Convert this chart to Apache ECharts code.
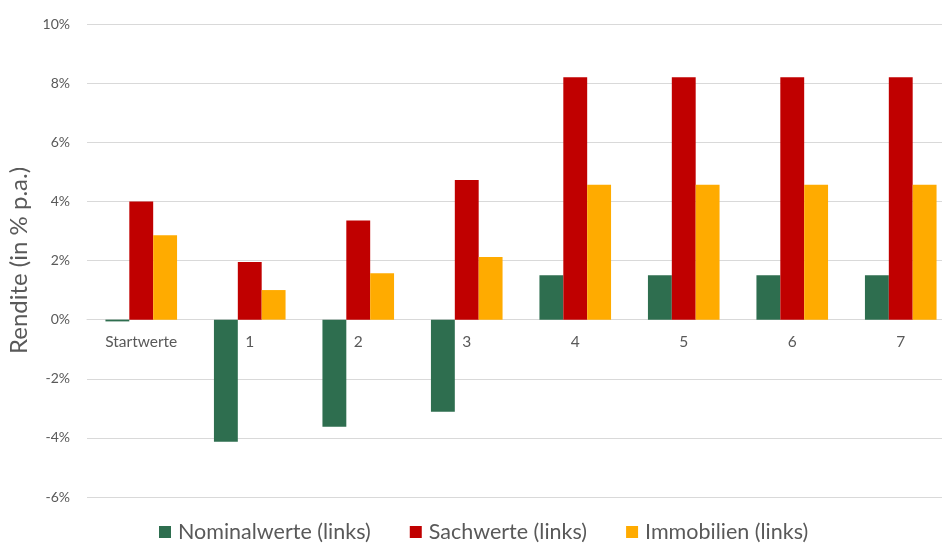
<!DOCTYPE html>
<html>
<head>
<meta charset="utf-8">
<script src="https://cdn.jsdelivr.net/npm/echarts@6/dist/echarts.min.js"></script>
<style>
  html, body { margin: 0; padding: 0; background: #ffffff; }
  #chart { width: 942px; height: 543px; }
</style>
</head>
<body>
<div id="chart"></div>
<script>
// Kategorien und Renditen (in % p.a.)
const categories = ['Startwerte', '1', '2', '3', '4', '5', '6', '7'];
const nominalwerte = [-0.06, -4.13, -3.62, -3.12, 1.5, 1.5, 1.5, 1.5];
const sachwerte = [4.0, 1.95, 3.35, 4.72, 8.2, 8.2, 8.2, 8.2];
const immobilien = [2.85, 1.0, 1.57, 2.12, 4.56, 4.56, 4.56, 4.56];
const seriesNames = ['Nominalwerte (links)', 'Sachwerte (links)', 'Immobilien (links)'];
const colors = ['#2E6E4F', '#C00000', '#FFAB00'];

const fontFamily = 'Lato, "Open Sans", sans-serif';
const textColor = '#595959';
const gridColor = '#D9D9D9';

const chart = echarts.init(document.getElementById('chart'));

function barSeries(name, data, color) {
  return {
    name: name,
    type: 'bar',
    data: data,
    barGap: '0%',
    barCategoryGap: '34%',
    itemStyle: { color: color },
    emphasis: { disabled: true }
  };
}

chart.setOption({
  animation: false,
  textStyle: { fontFamily: fontFamily },
  // Plotfläche läuft rechts über den Rand hinaus
  grid: { left: 87, right: -13, top: 24, bottom: 46, containLabel: false, outerBoundsMode: 'none' },
  legend: {
    top: 516,
    left: 154,
    itemWidth: 12,
    itemHeight: 12,
    itemGap: 39,
    icon: 'rect',
    textStyle: { color: textColor, fontSize: 21.5, fontFamily: fontFamily, padding: [0, 0, 0, 2] },
    data: seriesNames
  },
  xAxis: {
    type: 'category',
    data: categories,
    axisLine: { onZero: false, lineStyle: { color: gridColor, width: 1 } },
    axisTick: { show: false },
    axisLabel: { color: textColor, fontSize: 15.5, margin: 14, fontFamily: fontFamily }
  },
  yAxis: {
    type: 'value',
    min: -6,
    max: 10,
    interval: 2,
    name: 'Rendite (in % p.a.)',
    nameLocation: 'middle',
    nameGap: 51,
    nameRotate: 90,
    nameTextStyle: { color: textColor, fontSize: 24, fontFamily: fontFamily },
    axisLine: { show: false },
    axisTick: { show: false },
    axisLabel: { color: textColor, fontSize: 14, margin: 17, formatter: '{value}%', fontFamily: fontFamily },
    splitLine: { lineStyle: { color: gridColor, width: 1 } }
  },
  series: [
    barSeries(seriesNames[0], nominalwerte, colors[0]),
    barSeries(seriesNames[1], sachwerte, colors[1]),
    barSeries(seriesNames[2], immobilien, colors[2])
  ]
});

// Kategorieachse auf die Nulllinie verschieben, damit die Beschriftungen dort stehen
const zeroY = chart.convertToPixel({ yAxisIndex: 0 }, 0);
const bottomY = chart.convertToPixel({ yAxisIndex: 0 }, -6);
chart.setOption({ xAxis: { offset: -(bottomY - zeroY) } });
</script>
</body>
</html>
